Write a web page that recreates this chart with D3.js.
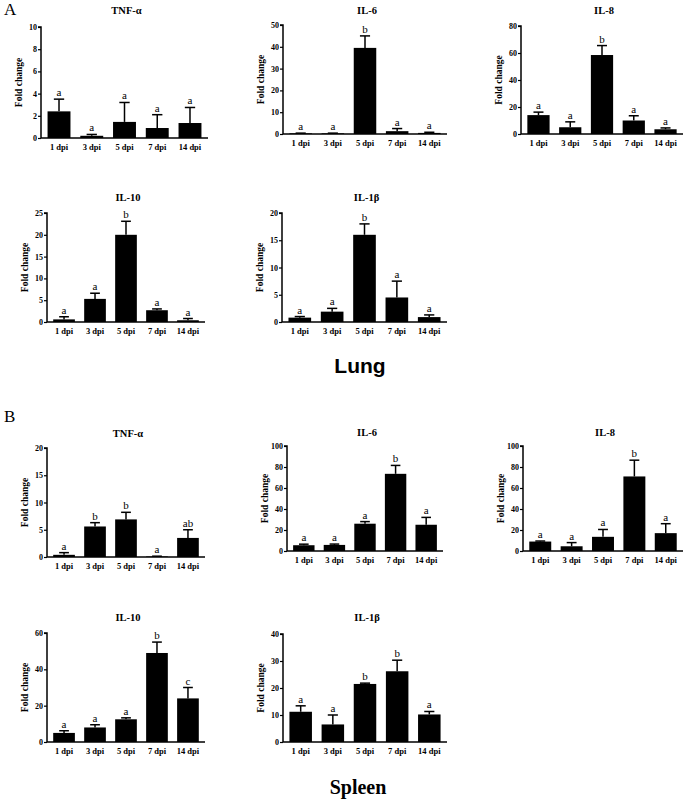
<!DOCTYPE html>
<html><head><meta charset="utf-8">
<script src="https://cdn.jsdelivr.net/npm/d3@7"></script>
<style>body{margin:0;background:#fff}svg{display:block}</style>
</head><body>
<script>
const categories = ["1 dpi","3 dpi","5 dpi","7 dpi","14 dpi"];
const genes = ["TNF-α","IL-6","IL-8","IL-10","IL-1β"];

const lungMeans = [
  [2.4,0.2,1.45,0.9,1.35],
  [0.3,0.3,39.5,1.3,0.5],
  [14,5,58.5,10,3.5],
  [0.6,5.3,20,2.7,0.4],
  [0.8,1.9,16,4.5,0.9]
];
const lungErrors = [
  [1.1,0.12,1.75,1.2,1.4],
  [0.1,0.1,5.5,1.2,0.3],
  [2.2,4,7,3.5,1],
  [0.6,1.3,3.1,0.3,0.4],
  [0.2,0.6,2,3,0.4]
];
const lungLetters = [
  ["a","a","a","a","a"],
  ["a","a","b","a","a"],
  ["a","a","b","a","a"],
  ["a","a","b","a","a"],
  ["a","a","b","a","a"]
];
const lungYMax = [10,50,80,25,20];
const lungTickStep = [2,10,20,5,5];

const spleenMeans = [
  [0.4,5.6,6.9,0.1,3.5],
  [5.5,5.8,26,73.5,25],
  [9,4.5,13.5,71,17],
  [5,8,12.5,49,24],
  [11.2,6.5,21.5,26.2,10.2]
];
const spleenErrors = [
  [0.4,0.7,1.3,0.05,1.5],
  [1,0.8,2,8,7],
  [0.5,3.5,7,15.5,9],
  [1.2,1.5,0.8,6,6],
  [2.2,3.5,0.3,4.1,1.1]
];
const spleenLetters = [
  ["a","b","b","a","ab"],
  ["a","a","a","b","a"],
  ["a","a","a","b","a"],
  ["a","a","a","b","c"],
  ["a","a","b","b","a"]
];
const spleenYMax = [20,100,100,60,40];
const spleenTickStep = [5,20,20,20,10];

// layout (pixel frames for each panel): [axisX, top, bottom, right, titleY]
const lungFrames = [
  [41,27,138,208,14],
  [283,25,134,447,14],
  [521,26,134,683,14],
  [47,213,322,205,201],
  [282,213,322,447,201]
];
const spleenFrames = [
  [47,448,557,205,437],
  [287,446,551,443,436],
  [523,446,551,683,436],
  [47,633,742,205,621],
  [283,634,742,447,621]
];

const W = 685, H = 801;
const svg = d3.select("body").append("svg").attr("width",W).attr("height",H);
const serif = "'Liberation Serif','Times New Roman',serif";

function panel(frame, gene, means, errs, letters, ymax, step){
  const [ax, top, bot, right, titleY] = frame;
  const g = svg.append("g");
  const x = d3.scaleBand().domain(categories).range([ax, right]).paddingInner(0.3).paddingOuter(0.2);
  const y = d3.scaleLinear().domain([0, ymax]).range([bot, top]);
  const ticks = d3.range(0, ymax + step/2, step);

  // bars
  g.selectAll("rect.bar").data(categories).join("rect")
    .attr("x", d => x(d)).attr("width", x.bandwidth())
    .attr("y", (d,i) => y(means[i])).attr("height", (d,i) => bot - y(means[i]))
    .attr("fill", "#000");

  // error bars (upper only)
  const capW = x.bandwidth()*0.45;
  categories.forEach((c,i) => {
    const cx = x(c) + x.bandwidth()/2;
    const yt = y(means[i] + errs[i]);
    g.append("line").attr("x1",cx).attr("x2",cx).attr("y1",y(means[i])).attr("y2",yt)
      .attr("stroke","#000").attr("stroke-width",1.5);
    g.append("line").attr("x1",cx-capW/2).attr("x2",cx+capW/2).attr("y1",yt).attr("y2",yt)
      .attr("stroke","#000").attr("stroke-width",1.5);
    g.append("text").attr("x",cx).attr("y",yt-3).attr("text-anchor","middle")
      .attr("font-family",serif).attr("font-size",11).text(letters[i]);
  });

  // y axis
  const yAxis = d3.axisLeft(y).tickValues(ticks).tickSize(3).tickPadding(1).tickFormat(d3.format("d"));
  const ya = g.append("g").attr("transform",`translate(${ax},0)`).call(yAxis);
  ya.select(".domain").attr("stroke-width",1.5).attr("d",`M-3,${top}H0V${bot}`);
  ya.selectAll(".tick line").attr("stroke-width",1.2);
  ya.selectAll("text").attr("font-family",serif).attr("font-weight","bold").attr("font-size",8).attr("fill","#000");

  // x axis
  const xAxis = d3.axisBottom(x).tickSize(0).tickPadding(6);
  const xa = g.append("g").attr("transform",`translate(0,${bot})`).call(xAxis);
  xa.select(".domain").attr("stroke-width",1.5).attr("d",`M${ax},0H${right}`);
  xa.selectAll("text").attr("font-family",serif).attr("font-weight","bold").attr("font-size",8.5).attr("fill","#000");

  // y label
  g.append("text").attr("transform",`translate(${ax-19},${(top+bot)/2}) rotate(-90)`)
    .attr("text-anchor","middle").attr("font-family",serif).attr("font-weight","bold")
    .attr("font-size",9.5).text("Fold change");

  // title
  g.append("text").attr("x",(ax+right)/2+2).attr("y",titleY).attr("text-anchor","middle")
    .attr("font-family",serif).attr("font-weight","bold").attr("font-size",10.5).text(gene);
}

genes.forEach((gname,i) => panel(lungFrames[i], gname, lungMeans[i], lungErrors[i], lungLetters[i], lungYMax[i], lungTickStep[i]));
genes.forEach((gname,i) => panel(spleenFrames[i], gname, spleenMeans[i], spleenErrors[i], spleenLetters[i], spleenYMax[i], spleenTickStep[i]));

svg.append("text").attr("x",4).attr("y",15).attr("font-family",serif).attr("font-size",17).text("A");
svg.append("text").attr("x",4).attr("y",422).attr("font-family",serif).attr("font-size",17).text("B");

svg.append("text").attr("x",360).attr("y",373).attr("text-anchor","middle")
  .attr("font-family","'Liberation Sans',Arial,sans-serif").attr("font-weight","bold").attr("font-size",21).text("Lung");
svg.append("text").attr("x",358).attr("y",794).attr("text-anchor","middle")
  .attr("font-family",serif).attr("font-weight","bold").attr("font-size",20).text("Spleen");
</script>
</body></html>
